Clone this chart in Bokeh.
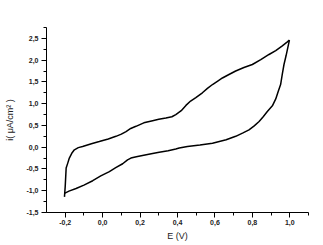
from bokeh.plotting import figure
from bokeh.models import SingleIntervalTicker, CustomJSTickFormatter, Range1d
from bokeh.embed import file_html
from bokeh.resources import INLINE

# Anodic (forward) sweep
fwd_E = [-0.204, -0.200, -0.195, -0.186, -0.178, -0.165, -0.151, -0.130, -0.107, -0.060,
         -0.018, 0.030, 0.071, 0.100, 0.125, 0.150, 0.178, 0.220, 0.267, 0.300,
         0.338, 0.370, 0.391, 0.420, 0.445, 0.470, 0.498, 0.533, 0.560, 0.587,
         0.615, 0.640, 0.675, 0.711, 0.755, 0.800, 0.845, 0.889, 0.925, 0.960,
         0.987, 0.998]
fwd_i = [-1.14, -0.90, -0.48, -0.36, -0.25, -0.14, -0.06, -0.01, 0.015, 0.08,
         0.13, 0.19, 0.25, 0.30, 0.36, 0.43, 0.48, 0.56, 0.61, 0.64,
         0.67, 0.70, 0.75, 0.84, 0.96, 1.06, 1.14, 1.25, 1.35, 1.44,
         1.52, 1.59, 1.67, 1.75, 1.83, 1.90, 2.01, 2.13, 2.22, 2.33,
         2.42, 2.46]
# Cathodic (reverse) sweep
rev_E = [0.998, 0.990, 0.980, 0.969, 0.960, 0.951, 0.939, 0.925, 0.907, 0.880,
         0.858, 0.836, 0.810, 0.782, 0.750, 0.711, 0.660, 0.587, 0.520, 0.453,
         0.409, 0.391, 0.350, 0.302, 0.260, 0.213, 0.180, 0.151, 0.133, 0.107,
         0.070, 0.036, -0.010, -0.053, -0.100, -0.142, -0.180, -0.204]
rev_i = [2.46, 2.30, 2.10, 1.90, 1.68, 1.44, 1.29, 1.11, 0.95, 0.82,
         0.70, 0.59, 0.49, 0.40, 0.33, 0.25, 0.17, 0.09, 0.05, 0.015,
         -0.02, -0.04, -0.08, -0.115, -0.15, -0.19, -0.22, -0.25, -0.29, -0.38,
         -0.47, -0.56, -0.66, -0.77, -0.87, -0.95, -1.01, -1.06]

x_label = "E (V)"
y_label = "i( μA/cm² )"

p = figure(width=323, height=245, output_backend="svg", toolbar_location=None,
           x_range=Range1d(-0.3, 1.1), y_range=Range1d(-1.5, 2.75),
           min_border_left=46, min_border_right=15, min_border_top=27, min_border_bottom=33)
p.outline_line_color = None
p.grid.visible = False
p.background_fill_color = "white"
p.border_fill_color = "white"

p.line(fwd_E, fwd_i, line_color="black", line_width=1.5)
p.line(rev_E, rev_i, line_color="black", line_width=1.5)

fmt = CustomJSTickFormatter(code="return tick.toFixed(1).replace('.', ',');")
p.xaxis.ticker = SingleIntervalTicker(interval=0.2, num_minor_ticks=2)
p.yaxis.ticker = SingleIntervalTicker(interval=0.5, num_minor_ticks=2)
for ax in (p.xaxis[0], p.yaxis[0]):
    ax.formatter = fmt
    ax.major_tick_out = 5
    ax.major_tick_in = 0
    ax.minor_tick_out = 3
    ax.minor_tick_in = 0
    ax.axis_line_color = "black"
    ax.major_tick_line_color = "black"
    ax.minor_tick_line_color = "black"
    ax.major_label_text_font = "Liberation Sans"
    ax.major_label_text_font_size = "7px"
    ax.major_label_text_font_style = "bold"
    ax.major_label_text_color = "#222222"
    ax.axis_label_text_font = "Liberation Sans"
    ax.axis_label_text_font_size = "9px"
    ax.axis_label_text_font_style = "normal"
    ax.axis_label_text_color = "#222222"
p.xaxis.axis_label = x_label
p.yaxis.axis_label = y_label
p.xaxis.major_label_standoff = 2
p.yaxis.major_label_standoff = 3
p.xaxis.axis_label_standoff = 3
p.yaxis.axis_label_standoff = 8

open("out.html", "w").write(file_html(p, INLINE))
